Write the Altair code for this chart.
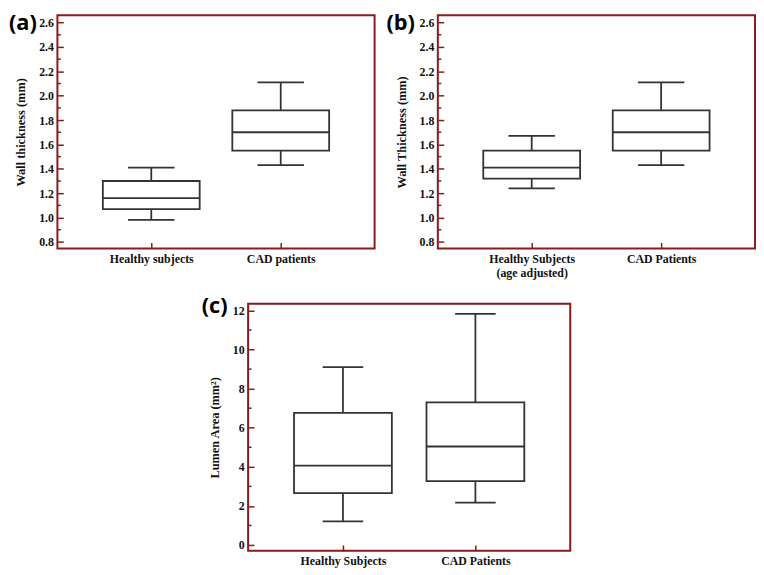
import altair as alt
import pandas as pd

RED = "#8B1A1A"
INK = "#333333"
FONT = "Liberation Serif"

# ---- data ----
cats_a = ["Healthy subjects", "CAD patients"]
a_low = [0.98, 1.43]
a_q1 = [1.07, 1.55]
a_med = [1.16, 1.70]
a_q3 = [1.30, 1.88]
a_high = [1.41, 2.11]

cats_b = ["Healthy Subjects|(age adjusted)", "CAD Patients"]
b_low = [1.24, 1.43]
b_q1 = [1.32, 1.55]
b_med = [1.41, 1.70]
b_q3 = [1.55, 1.88]
b_high = [1.67, 2.11]

cats_c = ["Healthy Subjects", "CAD Patients"]
c_low = [1.21, 2.17]
c_q1 = [2.65, 3.27]
c_med = [4.06, 5.04]
c_q3 = [6.76, 7.30]
c_high = [9.10, 11.83]

wall_major = [0.8, 1.0, 1.2, 1.4, 1.6, 1.8, 2.0, 2.2, 2.4, 2.6]
wall_minor = [0.9, 1.1, 1.3, 1.5, 1.7, 1.9, 2.1, 2.3, 2.5]
lumen_major = [0, 2, 4, 6, 8, 10, 12]
lumen_minor = [1, 3, 5, 7, 9, 11]

panel_labels = ["(a)", "(b)", "(c)"]


def panel(cats, low, q1, med, q3, high, domain, majors, minors, ytitle,
          label, box_w, cap_w, w, h, fmt, pad, lx, ly):
    df = pd.DataFrame({"cat": cats, "low": low, "q1": q1, "med": med,
                       "q3": q3, "high": high})
    xaxis = alt.Axis(title=None, domain=False, offset=-6, tickSize=6,
                     tickColor=RED, tickWidth=1.5, labelPadding=5,
                     labelAngle=0, labelFont=FONT, labelFontWeight="bold",
                     labelFontSize=12, labelColor="#111",
                     labelExpr="split(datum.label, '|')")
    xenc = alt.X("cat:N", sort=cats,
                 scale=alt.Scale(type="point", padding=pad), axis=xaxis)
    yscale = alt.Scale(domain=domain, nice=False, zero=False)
    yaxis = alt.Axis(title=ytitle, values=majors, format=fmt, domain=False,
                     grid=False, offset=-6, tickSize=6, tickColor=RED,
                     tickWidth=1.5, labelPadding=4, labelFont=FONT,
                     labelFontWeight="bold", labelFontSize=12,
                     labelColor="#111", titleFont=FONT,
                     titleFontWeight="bold", titleFontSize=12.5,
                     titleColor="#111", titlePadding=11)

    def Y(f):
        return alt.Y(f, type="quantitative", scale=yscale, axis=yaxis)

    base = alt.Chart(df)
    whisk = base.mark_rule(color=INK, strokeWidth=1.8).encode(
        x=xenc, y=Y("low"), y2="high:Q")
    box = base.mark_bar(size=box_w, fill="white", stroke=INK,
                        strokeWidth=1.8).encode(x=xenc, y=Y("q1"), y2="q3:Q")
    medm = base.mark_tick(size=box_w, thickness=1.8, color=INK,
                          opacity=1).encode(x=xenc, y=Y("med"))
    caplo = base.mark_tick(size=cap_w, thickness=1.8, color=INK,
                           opacity=1).encode(x=xenc, y=Y("low"))
    caphi = base.mark_tick(size=cap_w, thickness=1.8, color=INK,
                           opacity=1).encode(x=xenc, y=Y("high"))
    minor = alt.Chart(pd.DataFrame({"m": minors})).mark_rule(
        color=RED, strokeWidth=1.5).encode(
        y=Y("m"), x=alt.value(0), x2=alt.value(3.5))
    tag = alt.Chart(pd.DataFrame({"t": [label]})).mark_text(
        font="Open Sans", fontSize=22, fontWeight="bold", color="black",
        align="left", baseline="alphabetic").encode(
        text="t:N", x=alt.value(lx), y=alt.value(ly))
    return alt.layer(whisk, box, medm, caplo, caphi, minor, tag).properties(
        width=w, height=h)


pa = panel(cats_a, a_low, a_q1, a_med, a_q3, a_high, [0.746, 2.66],
           wall_major, wall_minor, "Wall thickness (mm)", panel_labels[0],
           98, 47, 321, 236, ".1f", 0.725, -49, 15)
pb = panel(cats_b, b_low, b_q1, b_med, b_q3, b_high, [0.746, 2.66],
           wall_major, wall_minor, "Wall Thickness (mm)", panel_labels[1],
           98, 47, 321, 236, ".1f", 0.725, -52, 15)
pc = panel(cats_c, c_low, c_q1, c_med, c_q3, c_high, [-0.3, 12.34],
           lumen_major, lumen_minor, "Lumen Area (mm²)", panel_labels[2],
           99, 41, 326, 250, "d", 0.716, -47, 9)

spacer = alt.Chart(pd.DataFrame({"v": [0]})).mark_point(
    size=0, opacity=0).encode(
    x=alt.X("v:Q", axis=None), y=alt.Y("v:Q", axis=None)).properties(
    width=144, height=10, view=alt.ViewBackground(stroke="transparent"))

chart = alt.vconcat(
    alt.hconcat(pa, pb, spacing=10),
    alt.hconcat(spacer, pc, spacing=0),
    spacing=15,
).properties(padding=0, background="white").configure_view(
    stroke=RED, strokeWidth=2)

chart.save("out.html", embed_options={"renderer": "svg", "actions": False})
